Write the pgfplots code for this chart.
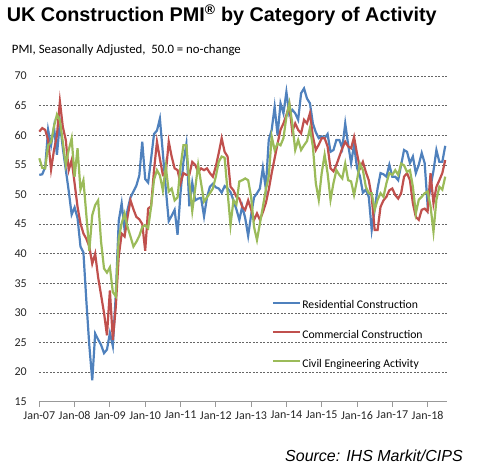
\documentclass[border=0pt]{standalone}
\usepackage{pgfplots}
\pgfplotsset{compat=1.18}
\usepackage{pgfplotstable}
\usepackage{fontspec}
\setmainfont{Carlito}
\newfontfamily\arial{Liberation Sans}
\definecolor{resblue}{HTML}{4F81BD}
\definecolor{comred}{HTML}{C0504D}
\definecolor{civgreen}{HTML}{9BBB59}
\pgfplotstableread{
m res com civ
0 53.3 60.6 56.1
1 53.4 61.2 54.5
2 54.6 60.9 54.4
3 60.9 59.2 58.3
4 58.3 54.2 58.8
5 61.4 57.5 61.5
6 56.7 60.0 63.5
7 62.2 65.7 62.5
8 57.8 61.4 58.8
9 54.2 59.2 55.0
10 50.6 54.1 57.5
11 46.6 55.8 59.5
12 47.8 51.9 53.0
13 46.0 47.9 57.8
14 41.2 45.1 50.8
15 40.2 43.4 52.4
16 32.0 42.5 46.5
17 24.5 41.2 40.5
18 18.6 38.3 46.5
19 26.5 40.0 48.2
20 25.5 36.0 49.0
21 24.6 33.0 42.0
22 23.2 30.0 37.5
23 23.8 26.2 36.8
24 26.6 33.8 37.7
25 24.4 25.4 33.5
26 33.0 31.0 32.8
27 45.5 39.5 42.5
28 48.5 43.4 45.1
29 44.0 42.9 46.8
30 47.4 46.2 44.5
31 49.5 49.0 42.9
32 50.5 47.5 41.2
33 51.5 46.2 42.0
34 53.2 45.8 43.0
35 58.9 45.0 44.5
36 52.6 40.5 44.8
37 52.0 47.6 44.3
38 56.0 48.0 47.9
39 60.2 54.1 52.5
40 60.8 58.9 54.1
41 62.8 56.0 53.2
42 57.0 53.3 50.7
43 51.0 53.6 54.7
44 45.5 58.9 50.5
45 46.4 56.4 51.0
46 47.4 54.4 49.0
47 43.2 54.1 49.5
48 50.2 51.9 54.7
49 55.5 53.6 58.3
50 58.5 53.3 58.3
51 48.0 53.3 52.0
52 52.0 55.5 47.2
53 49.0 55.0 51.0
54 49.3 53.8 55.0
55 49.4 54.4 51.9
56 46.3 54.1 48.8
57 49.5 54.4 49.5
58 51.3 53.6 50.2
59 51.8 53.0 51.0
60 51.2 54.7 53.0
61 51.0 57.0 55.5
62 50.3 59.5 56.4
63 51.4 57.2 56.2
64 51.0 56.4 50.5
65 50.4 51.3 44.8
66 49.0 50.7 49.0
67 47.5 49.6 48.3
68 45.7 49.3 52.2
69 48.0 47.9 52.4
70 46.0 47.4 52.7
71 43.0 49.0 52.4
72 46.5 47.5 49.6
73 49.5 45.7 44.5
74 50.2 46.8 42.3
75 51.0 45.7 45.1
76 54.5 47.0 47.9
77 51.0 48.5 50.8
78 59.2 50.8 53.0
79 60.9 53.6 59.8
80 64.8 56.1 57.5
81 60.0 58.6 58.6
82 65.4 60.9 58.3
83 63.7 62.0 59.5
84 67.3 63.4 63.1
85 63.5 65.1 65.4
86 64.3 60.6 62.0
87 63.7 62.0 57.5
88 62.6 60.9 59.2
89 67.1 60.3 57.5
90 67.9 62.6 58.3
91 66.2 62.0 59.0
92 65.4 63.7 61.2
93 62.0 59.8 58.1
94 60.5 57.5 51.9
95 59.5 58.4 49.1
96 59.8 59.5 53.6
97 59.5 59.5 56.7
98 60.2 58.1 53.6
99 57.2 54.4 49.1
100 57.5 53.9 51.9
101 59.2 55.0 54.1
102 59.2 56.4 53.3
103 57.8 57.8 52.7
104 62.0 58.9 55.2
105 58.4 58.1 52.4
106 55.3 57.8 52.2
107 58.4 59.7 49.9
108 54.5 56.9 52.4
109 53.1 54.4 55.2
110 50.3 55.5 54.1
111 50.8 53.8 51.3
112 49.6 52.4 50.2
113 44.0 49.6 50.2
114 47.4 44.0 47.4
115 51.0 44.0 49.1
116 53.6 47.9 50.2
117 53.4 49.0 49.6
118 53.0 49.6 51.9
119 55.0 50.7 53.6
120 53.0 51.0 53.3
121 53.0 49.9 54.1
122 52.4 49.3 53.3
123 55.0 50.2 55.2
124 57.5 53.0 54.9
125 57.2 53.6 53.8
126 55.3 52.4 54.1
127 56.4 48.5 51.3
128 53.6 46.2 46.8
129 55.0 45.7 49.1
130 57.0 47.4 49.6
131 55.3 47.6 50.2
132 48.2 47.1 50.5
133 51.3 53.6 48.0
134 54.0 48.5 43.7
135 57.5 51.3 49.1
136 55.5 52.4 51.3
137 55.5 53.6 50.8
138 58.2 55.8 53.0
}\pmidata
\begin{document}
\begin{tikzpicture}
\useasboundingbox (-39.3pt,-68.3pt) rectangle (455.7pt,401.7pt);
\begin{axis}[
  scale only axis,
  width=408pt, height=325.7pt,
  xmin=0, xmax=138.7,
  ymin=15, ymax=70,
  ytick={15,20,...,70},
  xtick={0,12,...,132},
  xticklabels={Jan-07,Jan-08,Jan-09,Jan-10,Jan-11,Jan-12,Jan-13,Jan-14,Jan-15,Jan-16,Jan-17,Jan-18},
  axis lines*=left,
  y axis line style={draw=none},
  x axis line style={draw=black!40, line width=0.8pt},
  ytick style={draw=none},
  xtick style={draw=black!40, line width=0.8pt},
  tick align=outside,
  major tick length=5pt,
  ymajorgrids,
  major grid style={black!60, line width=0.6pt, dash pattern=on 2pt off 1.5pt},
  /pgf/number format/assume math mode=true,
  tick label style={font=\fontsize{12}{14}\selectfont, text=black!85},
  yticklabel style={xshift=-4pt},
  xticklabel style={yshift=-1pt},
  legend style={draw=none, fill=none, at={(0.5696,0.310)}, anchor=north west,
    font=\fontsize{11.7}{14}\selectfont, row sep=18.3pt, inner sep=0pt,
    nodes={inner sep=0pt, text height=8pt, text depth=3pt},
    /tikz/every odd column/.style={column sep=0.8pt}},
  legend cell align=left,
  legend image code/.code={\draw[#1, line width=2pt] (0pt,3.7pt) -- (27.6pt,3.7pt);},
  clip=false,
]
\addplot[resblue, line width=2.2pt] table[x=m, y=res] {\pmidata};
\addlegendentry{Residential Construction}
\addplot[comred, line width=2.2pt] table[x=m, y=com] {\pmidata};
\addlegendentry{Commercial Construction}
\addplot[civgreen, line width=2.2pt] table[x=m, y=civ] {\pmidata};
\addlegendentry{Civil Engineering Activity}
\end{axis}
\node[anchor=base west, inner sep=0pt, font=\arial\bfseries\fontsize{19.8}{24}\selectfont] at (-32.6pt,380pt) {UK Construction PMI\textsuperscript{\textregistered} by Category of Activity};
\node[anchor=base west, inner sep=0pt, font=\fontsize{12.8}{15}\selectfont] at (-27.6pt,348.4pt) {PMI, Seasonally Adjusted,\ \ 50.0 = no-change};
\node[anchor=base west, inner sep=0pt, font=\arial\itshape\fontsize{16}{19}\selectfont] at (245.7pt,-59.8pt) {Source: IHS Markit/CIPS};
\end{tikzpicture}
\end{document}
